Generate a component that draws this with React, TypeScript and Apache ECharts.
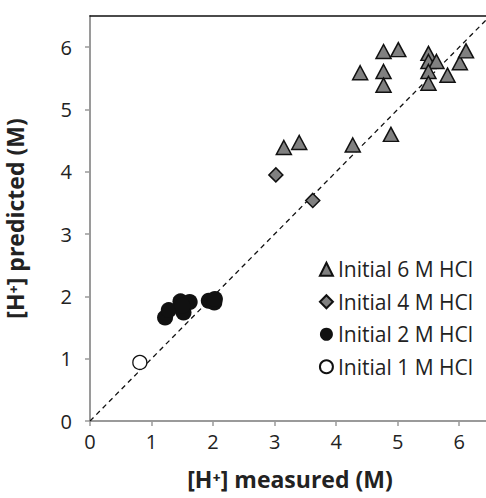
import React, { useEffect, useRef } from "react";
import * as echarts from "echarts";

const tickValues = [0, 1, 2, 3, 4, 5, 6];
const series6M: number[][] = [
  [4.77, 5.93], [5.01, 5.96], [4.39, 5.59], [4.77, 5.61], [4.77, 5.39],
  [5.5, 5.9], [5.5, 5.77], [5.63, 5.77], [5.5, 5.61], [5.5, 5.42],
  [5.81, 5.55], [6.01, 5.75], [6.11, 5.94], [4.89, 4.6], [4.27, 4.43],
  [3.15, 4.39], [3.4, 4.47],
];
const series4M: number[][] = [[3.02, 3.95], [3.62, 3.54]];
const series2M: number[][] = [
  [1.22, 1.66], [1.28, 1.78], [1.47, 1.92], [1.52, 1.74], [1.62, 1.91],
  [1.93, 1.93], [2.02, 1.9], [2.03, 1.96], [1.5, 1.85],
];
const series1M: number[][] = [[0.81, 0.94]];
const parityLine: number[][] = [[0, 0], [6.5, 6.5]];
const names = ["Initial 6 M HCl", "Initial 4 M HCl", "Initial 2 M HCl", "Initial 1 M HCl"];

const FONT = "'Open Sans', sans-serif";

export default function App() {
  const ref = useRef<HTMLDivElement>(null);
  useEffect(() => {
    const chart = echarts.init(ref.current!, null, { renderer: "svg" });
    const axisCommon = {
      type: "value" as const,
      min: 0,
      max: 6.5,
      interval: 1,
      splitLine: { show: false },
      axisLine: { lineStyle: { color: "#9a9a9a", width: 2 } },
      axisTick: { show: true, length: 5, lineStyle: { color: "#9a9a9a", width: 1.5 }, customValues: tickValues },
      axisLabel: { customValues: tickValues, color: "#222", fontSize: 20, fontFamily: FONT },
      nameLocation: "middle" as const,
      nameTextStyle: { color: "#222", fontSize: 23, fontWeight: "bold" as const, fontFamily: FONT },
    };
    chart.setOption({
      animation: false,
      grid: { left: 90, top: 16, right: -4, bottom: 77, outerBoundsMode: "none", containLabel: false },
      xAxis: [
        {
          ...axisCommon,
          axisLabel: { ...axisCommon.axisLabel, margin: 10 },
          name: "[H\u207A] measured (M)", nameGap: 46,
        },
        {
          type: "value", position: "top", min: 0, max: 6.5,
          axisLine: { show: true, lineStyle: { color: "#111", width: 1.5 } },
          axisTick: { show: false }, axisLabel: { show: false }, splitLine: { show: false },
        },
      ],
      yAxis: {
        ...axisCommon,
        axisLabel: { ...axisCommon.axisLabel, margin: 18 },
        name: "[H\u207A] predicted (M)", nameGap: 64,
      },
      legend: {
        data: names,
        orient: "vertical",
        right: 8,
        top: 250,
        itemGap: 4,
        itemWidth: 13,
        itemHeight: 13,
        textStyle: { color: "#222", fontSize: 21, fontFamily: FONT, lineHeight: 28.5 },
      },
      series: [
        {
          type: "line", data: parityLine, symbol: "none", silent: true, z: 1,
          lineStyle: { color: "#111", width: 1.3, type: [5, 4] },
        },
        {
          name: names[0], type: "scatter", data: series6M, symbol: "triangle", symbolSize: [15, 14], z: 3,
          itemStyle: { color: "#808080", borderColor: "#111", borderWidth: 1.5, opacity: 1 },
        },
        {
          name: names[1], type: "scatter", data: series4M, symbol: "diamond", symbolSize: 14, z: 3,
          itemStyle: { color: "#808080", borderColor: "#111", borderWidth: 1.5, opacity: 1 },
        },
        {
          name: names[2], type: "scatter", data: series2M, symbol: "circle", symbolSize: 16, z: 3,
          itemStyle: { color: "#111", borderColor: "#111", borderWidth: 0, opacity: 1 },
        },
        {
          name: names[3], type: "scatter", data: series1M, symbol: "circle", symbolSize: 14, z: 3,
          itemStyle: { color: "#fff", borderColor: "#111", borderWidth: 1.3, opacity: 1 },
        },
      ],
    });
    return () => chart.dispose();
  }, []);
  return <div ref={ref} style={{ width: 486, height: 498, position: "absolute", left: 0, top: 0 }} />;
}
